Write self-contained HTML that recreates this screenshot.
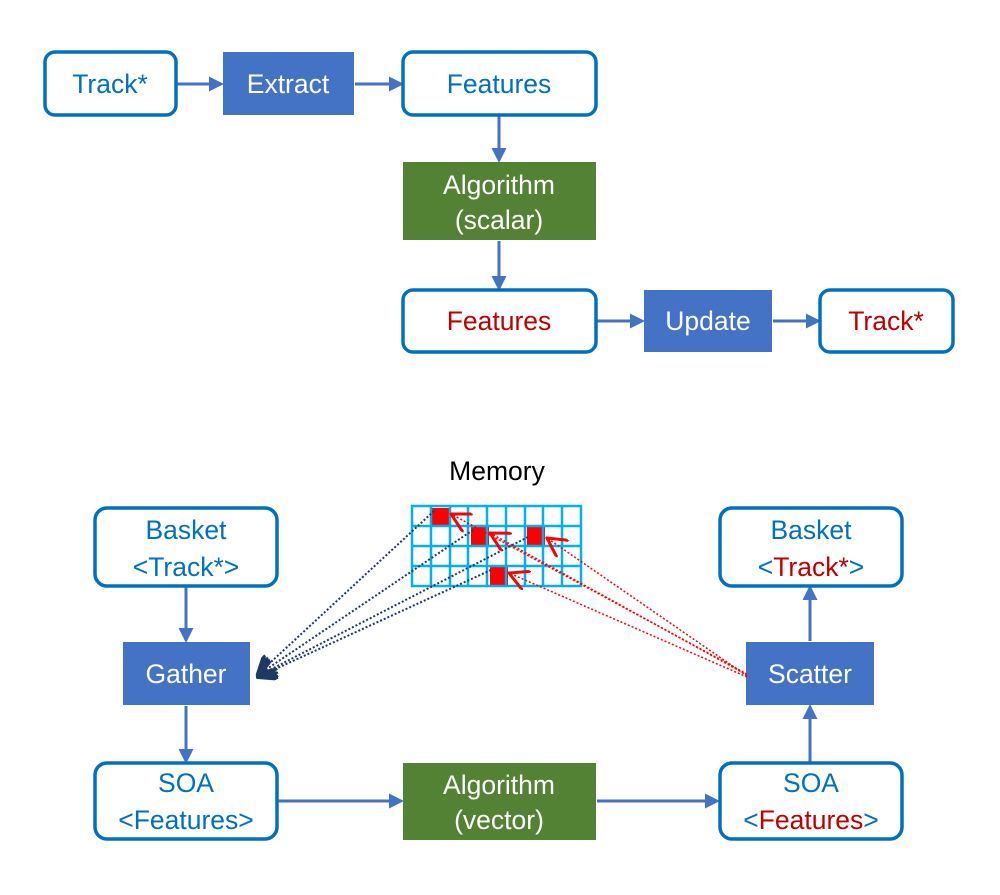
<!DOCTYPE html>
<html><head><meta charset="utf-8"><style>
body{margin:0;background:#fff}
text{font-family:"Liberation Sans",sans-serif;font-size:26.5px;text-anchor:middle}
</style></head><body>
<svg width="1000" height="890" viewBox="0 0 1000 890" xmlns="http://www.w3.org/2000/svg">
<defs>
<marker id="a" markerWidth="5" markerHeight="5" refX="4" refY="2.5" orient="auto" markerUnits="strokeWidth"><path d="M0,0 L5,2.5 L0,5z" fill="#4472C4"/></marker>
<marker id="n" markerWidth="10" markerHeight="10" refX="9" refY="5" orient="auto" markerUnits="strokeWidth"><path d="M0,0 L9,5 L0,10" fill="none" stroke="#1F3864" stroke-width="2"/></marker>
<marker id="r" markerWidth="14" markerHeight="14" refX="13" refY="7" orient="auto" markerUnits="strokeWidth"><path d="M0,0 L13,7 L0,14" fill="none" stroke="#f00" stroke-width="2"/></marker>
</defs>
<g fill="none" stroke="#4472C4" stroke-width="3" marker-end="url(#a)">
<line x1="177" y1="84" x2="221" y2="84"/>
<line x1="355" y1="84" x2="401" y2="84"/>
<line x1="499" y1="116" x2="499" y2="160"/>
<line x1="499" y1="241" x2="499" y2="288"/>
<line x1="597" y1="321" x2="642" y2="321"/>
<line x1="773" y1="321" x2="818" y2="321"/>
<line x1="186" y1="587" x2="186" y2="640"/>
<line x1="186" y1="706" x2="186" y2="761"/>
<line x1="278" y1="801" x2="401" y2="801"/>
<line x1="597" y1="801" x2="717" y2="801"/>
<line x1="810" y1="762" x2="810" y2="707"/>
<line x1="810" y1="641" x2="810" y2="588"/>
</g>
<g fill="#fff" stroke="#0070C0" stroke-width="3.5">
<rect x="45" y="52" width="131" height="63" rx="10"/>
<rect x="403" y="52" width="193" height="63" rx="10"/>
<rect x="403" y="290" width="193" height="62" rx="10"/>
<rect x="820" y="290" width="133" height="62" rx="10"/>
<rect x="95" y="508" width="182" height="78" rx="12"/>
<rect x="95" y="763" width="182" height="76" rx="12"/>
<rect x="720" y="763" width="182" height="76" rx="12"/>
<rect x="720" y="508" width="182" height="78" rx="12"/>
</g>
<g fill="#4472C4">
<rect x="223" y="52" width="131" height="63"/>
<rect x="644" y="290" width="128" height="62"/>
<rect x="123" y="642" width="127" height="63"/>
<rect x="746" y="642" width="128" height="63"/>
</g>
<g fill="#548235">
<rect x="403" y="162" width="193" height="78"/>
<rect x="403" y="763" width="193" height="77"/>
</g>
<g fill="#f00">
<rect x="432" y="508" width="18" height="18"/>
<rect x="471" y="527" width="18" height="19"/>
<rect x="527" y="527" width="18" height="19"/>
<rect x="490" y="567" width="18" height="18"/>
</g>
<g stroke="#00B0F0" stroke-width="2.5" fill="none">
<rect x="412" y="506" width="169" height="80"/>
<path d="M431 506V586M450 506V586M468 506V586M487 506V586M506 506V586M525 506V586M543 506V586M562 506V586M412 526H581M412 546H581M412 566H581"/>
</g>
<g stroke="#1F3864" stroke-width="2" stroke-dasharray="2 2" fill="none" marker-end="url(#n)">
<line x1="434" y1="511" x2="258" y2="674"/>
<line x1="473" y1="530" x2="258" y2="675"/>
<line x1="528" y1="537" x2="258" y2="676"/>
<line x1="491" y1="570" x2="258" y2="677"/>
</g>
<g stroke="#f00" stroke-width="1.5" stroke-dasharray="2 2" fill="none" marker-end="url(#r)">
<line x1="747" y1="674" x2="451" y2="514"/>
<line x1="747" y1="675" x2="490" y2="533"/>
<line x1="747" y1="676" x2="547" y2="538"/>
<line x1="747" y1="677" x2="509" y2="573"/>
</g>
<g fill="#0070C0">
<text x="110" y="93">Track*</text>
<text x="499" y="93">Features</text>
<text x="186" y="539">Basket</text>
<text x="186" y="576">&lt;Track*&gt;</text>
<text x="186" y="792">SOA</text>
<text x="186" y="829">&lt;Features&gt;</text>
<text x="811" y="792">SOA</text>
<text x="811" y="829">&lt;<tspan fill="#C00000">Features</tspan>&gt;</text>
<text x="811" y="539">Basket</text>
<text x="811" y="576">&lt;<tspan fill="#C00000">Track*</tspan>&gt;</text>
</g>
<g fill="#C00000">
<text x="499" y="330">Features</text>
<text x="886" y="330">Track*</text>
</g>
<g fill="#fff">
<text x="288" y="93">Extract</text>
<text x="499" y="194">Algorithm</text>
<text x="499" y="229">(scalar)</text>
<text x="708" y="330">Update</text>
<text x="186" y="683">Gather</text>
<text x="810" y="683">Scatter</text>
<text x="499" y="794">Algorithm</text>
<text x="499" y="829">(vector)</text>
</g>
<text x="497" y="480" fill="#000">Memory</text>
</svg>
</body></html>
